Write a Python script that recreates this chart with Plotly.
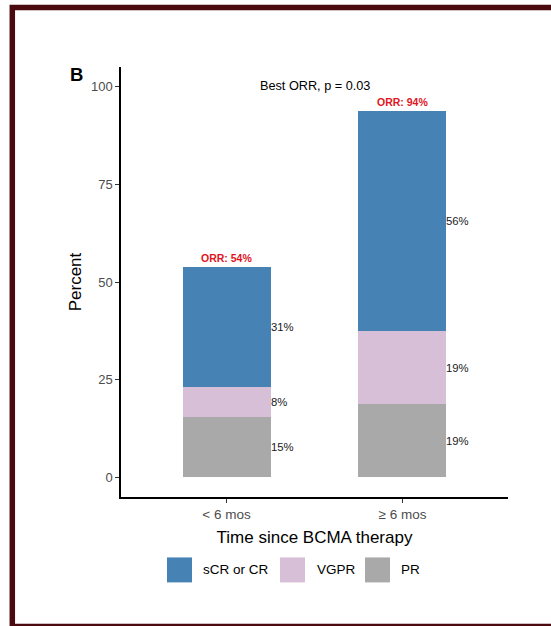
import plotly.graph_objects as go

# Response by time since prior BCMA therapy
categories = ["< 6 mos", "\u2265 6 mos"]
pr = [15.38, 18.75]
vgpr = [7.69, 18.75]
cr = [30.77, 56.25]

series_names = ["PR", "VGPR", "sCR or CR"]
series_values = [pr, vgpr, cr]
series_colors = ["#A9A9A9", "#D8BFD8", "#4682B4"]
legend_order = ["sCR or CR", "VGPR", "PR"]

y_ticks = [0, 25, 50, 75, 100]

W, H = 551, 626
ML, MR, MT, MB = 121, 43, 67, 128.5
PW, PH = W - ML - MR, H - MT - MB
FONT = "Liberation Sans, Arial, Helvetica, sans-serif"
BAR_W = 0.5


def px_x(px):
    return (px - ML) / PW


def px_y(py):
    return (H - MB - py) / PH


fig = go.Figure()
for name, vals, col in zip(series_names, series_values, series_colors):
    fig.add_trace(go.Bar(
        x=categories, y=vals, name=name, width=BAR_W,
        marker=dict(color=col, line=dict(width=0)),
        showlegend=False, hoverinfo="skip",
    ))

annotations = []
# segment percentages to the right of each bar
for i, cat in enumerate(categories):
    base = 0.0
    for vals in series_values:
        v = vals[i]
        annotations.append(dict(
            x=i + BAR_W / 2, y=base + v / 2, xref="x", yref="y",
            text=f"{round(v)}%", showarrow=False, xanchor="left", yanchor="middle",
            borderpad=0, xshift=-1,
            font=dict(family=FONT, size=11.3, color="#1a1a1a"),
        ))
        base += v
    total = sum(vals[i] for vals in series_values)
    annotations.append(dict(
        x=i, y=total, xref="x", yref="y",
        text=f"<b>ORR: {round(total)}%</b>", showarrow=False,
        xanchor="center", yanchor="middle", yshift=9,
        font=dict(family=FONT, size=10.5, color="#E0141E"),
    ))

annotations.append(dict(
    x=0.5, y=px_y(86), xref="paper", yref="paper", text="Best ORR, p = 0.03",
    showarrow=False, xanchor="center", yanchor="middle",
    font=dict(family=FONT, size=12.7, color="#000000"),
))
annotations.append(dict(
    x=px_x(76), y=px_y(74.5), xref="paper", yref="paper", text="<b>B</b>",
    showarrow=False, xanchor="center", yanchor="middle",
    font=dict(family=FONT, size=18.5, color="#000000"),
))

shapes = []
# legend keys and labels
legend_keys = {"sCR or CR": 167, "VGPR": 280, "PR": 365}
legend_text = {"sCR or CR": 202, "VGPR": 316, "PR": 400}
color_of = dict(zip(series_names, series_colors))
for name in legend_order:
    x0 = legend_keys[name]
    shapes.append(dict(
        type="rect", xref="paper", yref="paper",
        x0=px_x(x0), x1=px_x(x0 + 25), y0=px_y(583), y1=px_y(558),
        fillcolor=color_of[name], line=dict(width=0), layer="above",
    ))
    annotations.append(dict(
        x=px_x(legend_text[name]), y=px_y(570.5), xref="paper", yref="paper",
        text=name, showarrow=False, xanchor="left", yanchor="middle", borderpad=0,
        font=dict(family=FONT, size=13.5, color="#000000"),
    ))

# frame around the panel
shapes.append(dict(
    type="rect", xref="paper", yref="paper",
    x0=px_x(12.3), x1=px_x(575), y0=px_y(627.2), y1=px_y(7.5),
    line=dict(color="#4A0A10", width=5.5), fillcolor="rgba(0,0,0,0)", layer="above",
))

fig.update_layout(
    width=W, height=H, barmode="stack",
    margin=dict(l=ML, r=MR, t=MT, b=MB, pad=0),
    paper_bgcolor="white", plot_bgcolor="white",
    font=dict(family=FONT, color="#000000"),
    annotations=annotations, shapes=shapes,
    xaxis=dict(
        type="category", range=[-0.6, 1.6], showgrid=False, zeroline=False,
        showline=True, linecolor="#000000", linewidth=1.5,
        ticks="outside", ticklen=4, tickwidth=1, tickcolor="#333333",
        tickfont=dict(family=FONT, size=13.5, color="#4D4D4D"),
        title=dict(text="Time since BCMA therapy", standoff=10,
                   font=dict(family=FONT, size=17, color="#000000")),
    ),
    yaxis=dict(
        range=[-5, 105], tickvals=y_ticks, showgrid=False, zeroline=False,
        showline=True, linecolor="#000000", linewidth=1.5,
        ticks="outside", ticklen=4, tickwidth=1, tickcolor="#333333",
        tickfont=dict(family=FONT, size=13, color="#4D4D4D"),
        title=dict(text="Percent", standoff=5,
                   font=dict(family=FONT, size=17, color="#000000")),
    ),
)

fig.write_html("out.html")
